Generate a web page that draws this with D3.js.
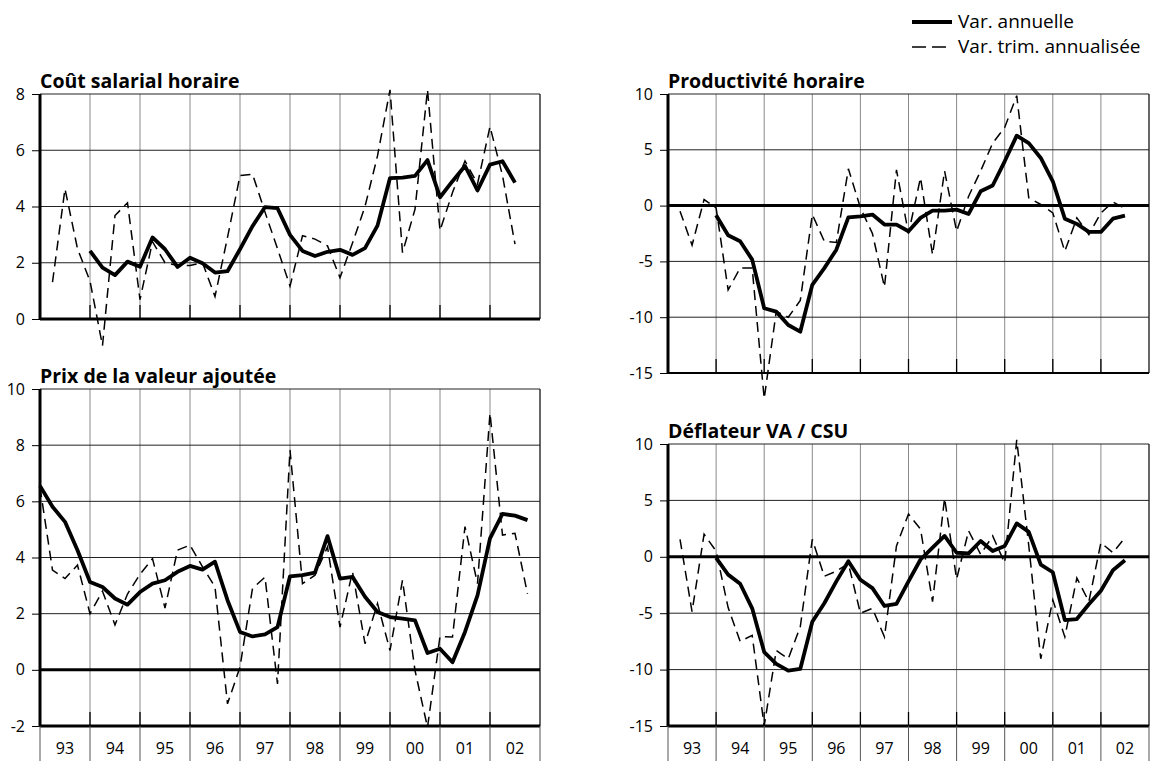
<!DOCTYPE html>
<html><head><meta charset="utf-8">
<script src="https://cdn.jsdelivr.net/npm/d3@7"></script>
<style>
body{margin:0;background:#fff}
svg{display:block}
text{font-family:"Open Sans","DejaVu Sans",sans-serif;fill:#000}
</style>
</head><body>
<svg id="chart" width="1152" height="761"></svg>
<script>
// ---------- DATA (quarterly, 1993Q1 .. 2002Q4) ----------
const yearLabels = ["93","94","95","96","97","98","99","00","01","02"];
const seriesNames = ["Var. annuelle","Var. trim. annualisée"];

const coutTitle = "Coût salarial horaire";
const coutTicks = [0,2,4,6,8];
const coutAnnual = [null,null,null,null,2.42,1.83,1.56,2.04,1.86,2.9,2.48,1.85,2.18,1.98,1.65,1.7,2.48,3.3,3.98,3.94,2.99,2.42,2.24,2.39,2.46,2.28,2.52,3.32,5.01,5.03,5.09,5.65,4.33,4.9,5.44,4.57,5.49,5.61,4.85,null];
const coutQuarter = [null,1.31,4.63,2.5,1.35,-0.95,3.68,4.13,0.69,2.75,2.0,1.9,1.9,2.0,0.8,2.9,5.1,5.15,3.8,2.5,1.17,2.96,2.84,2.6,1.47,2.7,4.0,5.8,8.15,2.36,3.9,8.15,3.14,4.5,5.62,4.8,6.84,5.1,2.66,null];

const prodTitle = "Productivité horaire";
const prodTicks = [-15,-10,-5,0,5,10];
const prodAnnual = [null,null,null,null,-0.87,-2.66,-3.2,-4.84,-9.2,-9.5,-10.7,-11.3,-7.1,-5.6,-3.95,-1.05,-0.96,-0.8,-1.7,-1.7,-2.3,-1.1,-0.45,-0.45,-0.36,-0.75,1.28,1.8,3.97,6.27,5.6,4.27,2.18,-1.17,-1.64,-2.36,-2.36,-1.17,-0.9,null];
const prodQuarter = [null,-0.5,-3.55,0.54,-0.2,-7.56,-5.6,-5.6,-17.3,-9.5,-10.0,-8.5,-0.8,-3.2,-3.3,3.3,-0.2,-2.5,-7.3,3.2,-2.5,2.5,-4.4,3.1,-2.3,0.84,3.1,5.6,7.0,9.85,0.7,0.1,-0.66,-4.1,-1.1,-2.6,-0.66,0.33,-0.27,null];

const prixTitle = "Prix de la valeur ajoutée";
const prixTicks = [-2,0,2,4,6,8,10];
const prixAnnual = [6.55,5.81,5.27,4.26,3.13,2.95,2.54,2.32,2.77,3.07,3.19,3.49,3.7,3.57,3.85,2.48,1.35,1.19,1.26,1.52,3.33,3.37,3.46,4.76,3.25,3.31,2.6,2.06,1.88,1.82,1.76,0.6,0.75,0.27,1.35,2.65,4.68,5.55,5.49,5.33];
const prixQuarter = [6.5,3.55,3.25,3.73,2.0,2.8,1.6,2.7,3.4,3.96,2.2,4.26,4.44,3.67,2.95,-1.21,0.1,2.9,3.3,-0.5,7.83,3.07,3.37,4.38,1.52,3.49,0.93,2.36,0.69,3.19,-0.02,-2.05,1.19,1.17,5.1,3.07,9.14,4.8,4.86,2.71];

const deflTitle = "Déflateur VA / CSU";
const deflTicks = [-15,-10,-5,0,5,10];
const deflAnnual = [null,null,null,null,-0.09,-1.58,-2.39,-4.57,-8.45,-9.49,-10.09,-9.94,-5.76,-4.12,-2.18,-0.39,-2.03,-2.78,-4.36,-4.18,-2.18,-0.24,0.81,1.85,0.36,0.3,1.4,0.51,0.96,2.96,2.21,-0.69,-1.37,-5.61,-5.52,-4.21,-3.01,-1.19,-0.3,null];
const deflQuarter = [null,1.55,-4.87,2.0,0.5,-4.5,-7.5,-6.96,-15.0,-8.3,-9.04,-6.2,1.55,-1.73,-1.28,-0.6,-5.0,-4.57,-7.1,0.96,3.79,2.45,-3.97,5.19,-1.97,2.3,0.21,1.85,-0.54,10.36,1.0,-9.04,-3.82,-7.1,-1.88,-3.97,1.25,0.36,1.7,null];

// ---------- LAYOUT ----------
const panels = [
  {title: coutTitle, ticks: coutTicks, annual: coutAnnual, quarter: coutQuarter, x0: 40,  x1: 540,  yTop: 94,  yBot: 319, xLabels: false},
  {title: prodTitle, ticks: prodTicks, annual: prodAnnual, quarter: prodQuarter, x0: 668, x1: 1149, yTop: 94,  yBot: 373, xLabels: false},
  {title: prixTitle, ticks: prixTicks, annual: prixAnnual, quarter: prixQuarter, x0: 40,  x1: 540,  yTop: 389, yBot: 726, xLabels: true},
  {title: deflTitle, ticks: deflTicks, annual: deflAnnual, quarter: deflQuarter, x0: 668, x1: 1149, yTop: 444, yBot: 726, xLabels: true}
];

const svg = d3.select("#chart");
const nQ = 40;

panels.forEach(p => {
  const g = svg.append("g");
  const x = d3.scaleLinear().domain([0, nQ]).range([p.x0, p.x1]);
  const y = d3.scaleLinear().domain(d3.extent(p.ticks)).range([p.yBot, p.yTop]);
  const yearBounds = d3.range(0, nQ + 1, 4);

  // vertical year gridlines
  g.selectAll(".vgrid").data(yearBounds.slice(1, -1)).join("line")
    .attr("x1", d => x(d)).attr("x2", d => x(d))
    .attr("y1", p.yTop).attr("y2", p.yBot)
    .attr("stroke", "#8a8a8a").attr("stroke-width", 1);
  // inner tick marks at bottom
  g.selectAll(".vtick").data(yearBounds.slice(1, -1)).join("line")
    .attr("x1", d => x(d)).attr("x2", d => x(d))
    .attr("y1", p.yBot - 14).attr("y2", p.yBot)
    .attr("stroke", "#000").attr("stroke-width", 1.3);
  // right border
  g.append("line").attr("x1", x(nQ)).attr("x2", x(nQ))
    .attr("y1", p.yTop).attr("y2", p.yBot).attr("stroke", "#000").attr("stroke-width", 1.2);

  // horizontal gridlines
  g.selectAll(".hgrid").data(p.ticks).join("line")
    .attr("x1", p.x0).attr("x2", p.x1)
    .attr("y1", d => y(d)).attr("y2", d => y(d))
    .attr("stroke", "#222").attr("stroke-width", 1);

  // zero line
  g.append("line").attr("x1", p.x0).attr("x2", p.x1)
    .attr("y1", y(0)).attr("y2", y(0)).attr("stroke", "#000").attr("stroke-width", 3);
  // bottom border
  g.append("line").attr("x1", p.x0).attr("x2", p.x1)
    .attr("y1", p.yBot).attr("y2", p.yBot).attr("stroke", "#000").attr("stroke-width", p.xLabels ? 3 : 2);

  // y axis
  const ax = g.append("g").attr("transform", `translate(${p.x0},0)`)
    .call(d3.axisLeft(y).tickValues(p.ticks).tickSize(8).tickPadding(7).tickFormat(d => String(d)));
  ax.select(".domain").remove();
  ax.selectAll(".tick line").attr("stroke", "#000");
  ax.selectAll(".tick text").attr("font-size", 16).attr("font-family", '"Open Sans",sans-serif').attr("fill", "#000");
  g.append("line").attr("x1", p.x0).attr("x2", p.x0)
    .attr("y1", p.yTop).attr("y2", p.yBot).attr("stroke", "#000").attr("stroke-width", 3);

  // x labels
  if (p.xLabels) {
    g.selectAll(".xsep").data(yearBounds).join("line")
      .attr("x1", d => x(d)).attr("x2", d => x(d))
      .attr("y1", p.yBot).attr("y2", 761)
      .attr("stroke", "#555").attr("stroke-width", 1);
    g.selectAll(".xlab").data(yearLabels).join("text")
      .attr("x", (d, i) => x(i * 4 + 2)).attr("y", 754)
      .attr("text-anchor", "middle").attr("font-size", 16).text(d => d);
  }

  // series
  const line = d3.line().defined(d => d != null).x((d, i) => x(i)).y(d => y(d));
  g.append("path").attr("d", line(p.quarter)).attr("fill", "none")
    .attr("stroke", "#000").attr("stroke-width", 1.5).attr("stroke-dasharray", "10,6");
  g.append("path").attr("d", line(p.annual)).attr("fill", "none")
    .attr("stroke", "#000").attr("stroke-width", 3.8).attr("stroke-linejoin", "round");

  // title
  g.append("text").attr("x", p.x0).attr("y", p.yTop - 6)
    .attr("font-size", 19.5).attr("font-weight", "bold").text(p.title);
});

// legend
const leg = svg.append("g");
const legItems = [{name: seriesNames[0], w: 3.8, dash: null, y: 22},
                  {name: seriesNames[1], w: 1.5, dash: "14,6", y: 47}];
leg.selectAll("line").data(legItems).join("line")
  .attr("x1", 912).attr("x2", 952).attr("y1", d => d.y).attr("y2", d => d.y)
  .attr("stroke", "#000").attr("stroke-width", d => d.w).attr("stroke-dasharray", d => d.dash);
leg.selectAll("text").data(legItems).join("text")
  .attr("x", 958).attr("y", d => d.y + 6).attr("font-size", 19).text(d => d.name);
</script>
</body></html>
